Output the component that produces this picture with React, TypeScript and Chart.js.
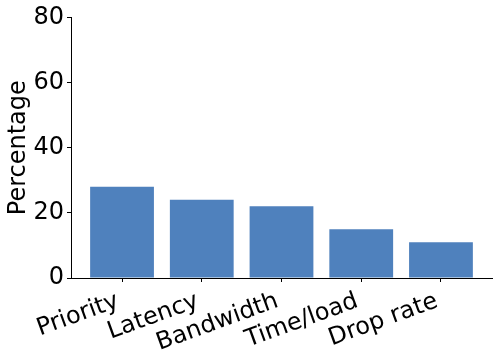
import React, { useEffect, useRef } from "react";
import { Chart, registerables } from "chart.js";
Chart.register(...registerables);

const categories = ["Priority", "Latency", "Bandwidth", "Time/load", "Drop rate"];
const values = [28, 24, 22, 15, 11];
const yTicks = [0, 20, 40, 60, 80];

export default function App() {
  const ref = useRef<HTMLCanvasElement>(null);
  useEffect(() => {
    document.body.style.margin = "0";
    const font = { family: "'DejaVu Sans', sans-serif", size: 24 };
    const chart = new Chart(ref.current!, {
      type: "bar",
      data: {
        datasets: [
          {
            data: values.map((v, i) => ({ x: i, y: v })),
            backgroundColor: "#4f81bd",
            barPercentage: 0.8,
            categoryPercentage: 1,
            borderWidth: 0,
          },
        ],
      },
      options: {
        animation: false,
        responsive: false,
        maintainAspectRatio: false,
        layout: { padding: { top: 16, right: 7, left: 0, bottom: 0 } },
        plugins: { legend: { display: false }, tooltip: { enabled: false } },
        scales: {
          x: {
            type: "linear",
            min: -0.64,
            max: 4.64,
            offset: false,
            grid: { display: true, drawOnChartArea: false, drawTicks: true, tickLength: 4, color: "#000", offset: false },
            border: { display: true, color: "#000", width: 1 },
            ticks: {
              font,
              color: "#000",
              minRotation: 20,
              maxRotation: 20,
              autoSkip: false,
              padding: 5,
              labelOffset: -4,
              includeBounds: false,
              callback: (v: any) => categories[Math.round(Number(v))] ?? "",
            },
            afterBuildTicks: (s: any) => {
              s.ticks = categories.map((_, i) => ({ value: i }));
            },
            afterFit: (s: any) => {
              s.height = 81;
            },
          },
          y: {
            min: 0,
            max: 80,
            grid: { display: true, drawOnChartArea: false, drawTicks: true, tickLength: 4, color: "#000" },
            border: { display: true, color: "#000", width: 1 },
            ticks: { font, color: "#000", padding: 3 },
            afterBuildTicks: (s: any) => {
              s.ticks = yTicks.map((v) => ({ value: v }));
            },
            title: { display: true, text: "Percentage", font, color: "#000", padding: { top: 4, bottom: 0 } },
            afterFit: (s: any) => {
              s.width = 71;
            },
          },
        },
      },
    });
    return () => chart.destroy();
  }, []);
  return <canvas ref={ref} width={499} height={359} style={{ display: "block" }} />;
}
